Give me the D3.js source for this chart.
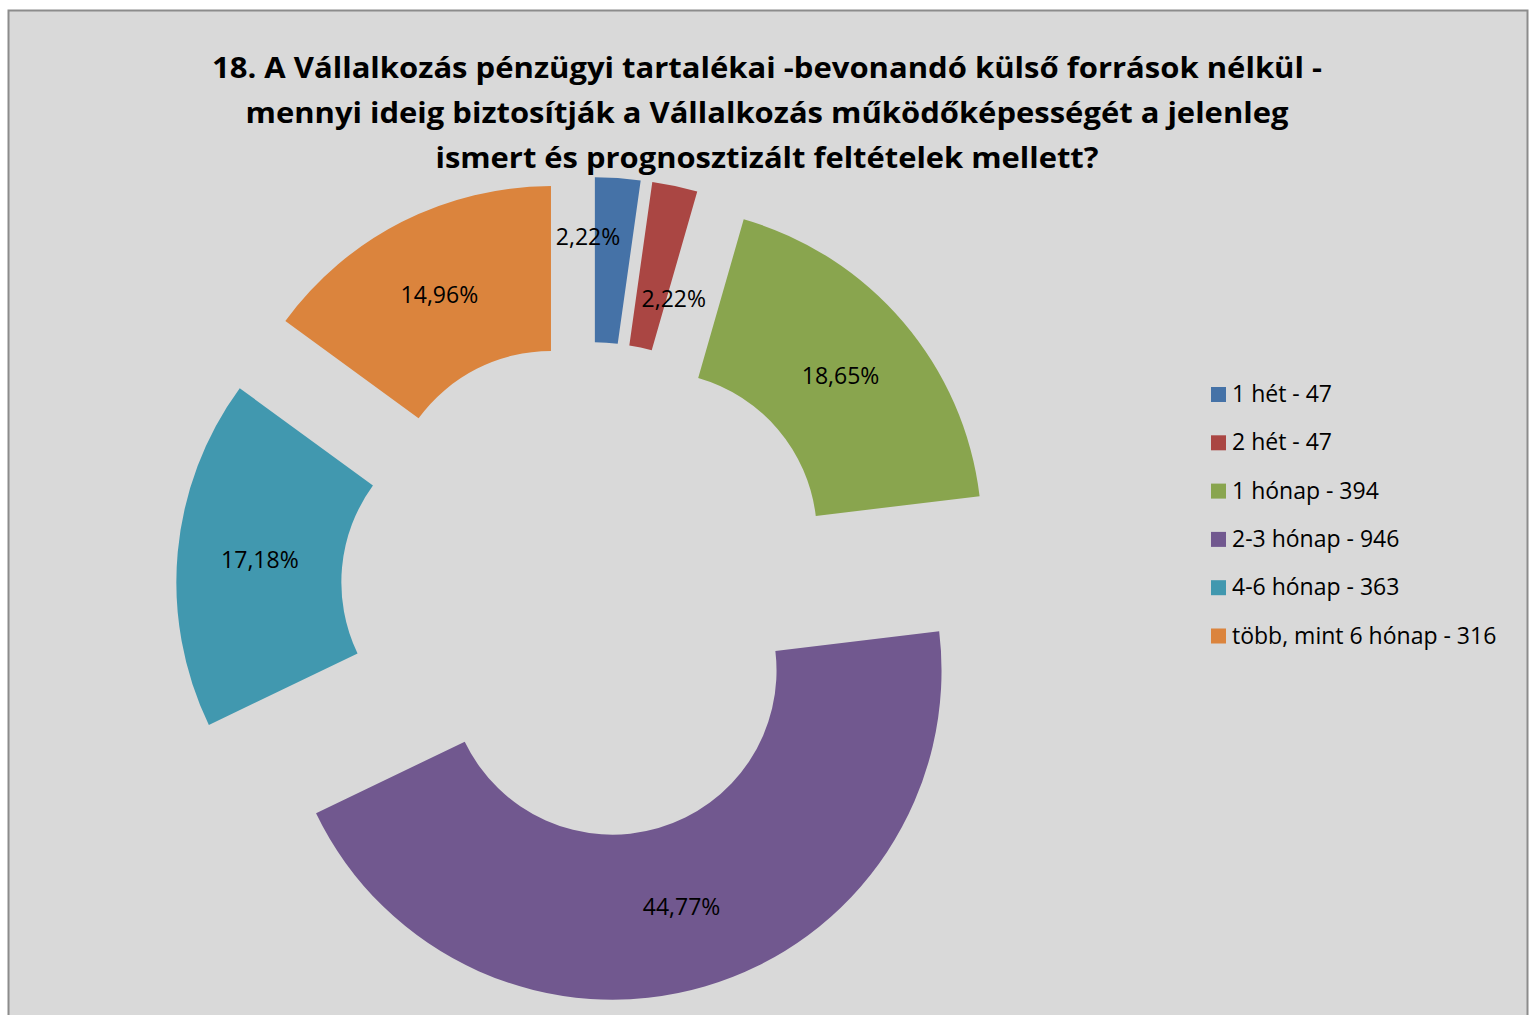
<!DOCTYPE html>
<html>
<head>
<meta charset="utf-8">
<script src="https://cdn.jsdelivr.net/npm/d3@7"></script>
<style>
  body { margin: 0; background: #fff; }
  text { font-family: "Open Sans", Lato, sans-serif; }
</style>
</head>
<body>
<div id="chart"></div>
<script>
// data
const categories = ["1 hét", "2 hét", "1 hónap", "2-3 hónap", "4-6 hónap", "több, mint 6 hónap"];
const counts = [47, 47, 394, 946, 363, 316];
const colors = ["#4572a7", "#aa4643", "#89a54e", "#71588f", "#4198af", "#db843d"];
const titleLines = [
    "18. A Vállalkozás pénzügyi tartalékai -bevonandó külső források nélkül -",
    "mennyi ideig biztosítják a Vállalkozás működőképességét a jelenleg",
    "ismert és prognosztizált feltételek mellett?"
];

const width = 1530, height = 1015;
const cx = 589, cy = 590;
const rOuter = 329, rInner = 164, explode = 84;

// small slices get their labels pushed aside like excel does
const labelNudge = [[-24, -23], [16, 32], [0, 0], [0, 0], [0, 0], [0, 0]];
// widths of the title lines in the original (calibri is narrower)
const titleWidths = [1110, 1043, 663];

let svg = d3.select("#chart")
    .append("svg")
    .attr("width", width)
    .attr("height", height);

svg.append("rect")
    .attr("x", 8.5)
    .attr("y", 10.5)
    .attr("width", 1519)
    .attr("height", 1010)
    .attr("fill", "#d9d9d9")
    .attr("stroke", "#8c8c8c")
    .attr("stroke-width", 2);

// title
svg.append("g").selectAll("text")
    .data(titleLines)
    .enter()
    .append("text")
    .attr("x", 767)
    .attr("y", (d, i) => 78 + i * 45)
    .attr("textLength", (d, i) => titleWidths[i])
    .attr("lengthAdjust", "spacingAndGlyphs")
    .style("text-anchor", "middle")
    .style("font-size", "28px")
    .style("font-weight", "bold")
    .text(d => d);

let total = d3.sum(counts);
let pie = d3.pie().sort(null).value(d => d)(counts);
let arc = d3.arc().innerRadius(rInner).outerRadius(rOuter);

function shift(d) {
    let a = (d.startAngle + d.endAngle) / 2;
    return [cx + explode * Math.sin(a), cy - explode * Math.cos(a)];
}

let slices = svg.append("g");
slices.selectAll("path")
    .data(pie)
    .enter()
    .append("path")
    .attr("transform", d => `translate(${shift(d)})`)
    .attr("d", arc)
    .attr("fill", (d, i) => colors[i]);

let fmt = v => (v / total * 100).toFixed(2).replace(".", ",") + "%";

slices.selectAll("text")
    .data(pie)
    .enter()
    .append("text")
    .attr("x", (d, i) => shift(d)[0] + arc.centroid(d)[0] + labelNudge[i][0])
    .attr("y", (d, i) => shift(d)[1] + arc.centroid(d)[1] + labelNudge[i][1])
    .attr("dy", "0.35em")
    .style("text-anchor", "middle")
    .style("font-size", "23px")
    .text(d => fmt(d.value));

// legend
let legend = svg.append("g").attr("transform", "translate(1211, 394)");
let rows = legend.selectAll("g")
    .data(categories)
    .enter()
    .append("g")
    .attr("transform", (d, i) => `translate(0, ${i * 48.3})`);
rows.append("rect")
    .attr("x", 0)
    .attr("y", -7)
    .attr("width", 15)
    .attr("height", 15)
    .attr("fill", (d, i) => colors[i]);
rows.append("text")
    .attr("x", 21)
    .attr("y", 0)
    .attr("dy", "0.35em")
    .style("font-size", "23px")
    .text((d, i) => d + " - " + counts[i]);
</script>
</body>
</html>
